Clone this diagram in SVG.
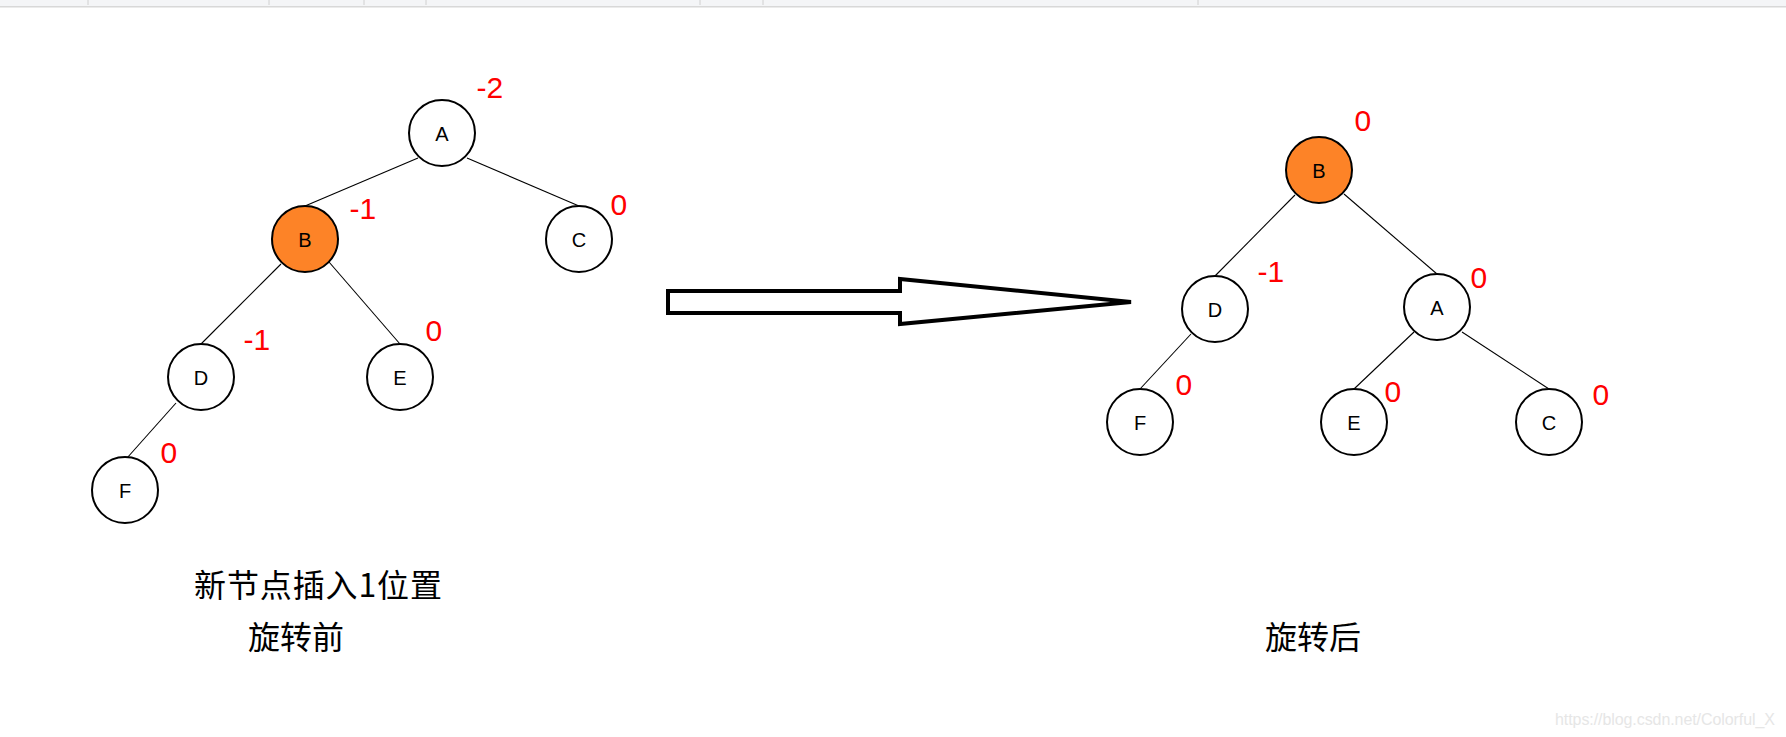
<svg xmlns="http://www.w3.org/2000/svg" width="1786" height="737" viewBox="0 0 1786 737">
<style>
.node circle{fill:#fff;stroke:#000;stroke-width:2}
.node.hl circle{fill:#fd8327}
.node text{font-family:"Liberation Sans",Arial,sans-serif;font-size:20px;text-anchor:middle;fill:#000}
.bf{font-family:"Liberation Sans",Arial,sans-serif;font-size:30px;fill:#ff0000}
.edges line{stroke:#000;stroke-width:1.1}
.cap{font-family:"Noto Sans CJK SC",sans-serif;font-size:32px;fill:#000}
</style>
<rect x="0" y="0" width="1786" height="737" fill="#fff"/>
<g id="topbar">
<rect x="0" y="0" width="1786" height="6" fill="#f4f5f7"/>
<rect x="0" y="6" width="1786" height="1.5" fill="#d8d8d8"/>
<g stroke="#d0d0d0" stroke-width="1">
<line x1="88" y1="0" x2="88" y2="5"/>
<line x1="269" y1="0" x2="269" y2="5"/>
<line x1="364" y1="0" x2="364" y2="5"/>
<line x1="426" y1="0" x2="426" y2="5"/>
<line x1="700" y1="0" x2="700" y2="5"/>
<line x1="763" y1="0" x2="763" y2="5"/>
<line x1="1198" y1="0" x2="1198" y2="5"/>
</g>
</g>
<g id="connectors" class="edges">
<line x1="418" y1="158" x2="305" y2="206"/>
<line x1="467" y1="158" x2="579" y2="206"/>
<line x1="281" y1="264" x2="201" y2="344"/>
<line x1="329" y1="262" x2="400" y2="344"/>
<line x1="176" y1="403" x2="127" y2="458"/>
<line x1="1295" y1="195" x2="1215" y2="276"/>
<line x1="1344" y1="194" x2="1437" y2="274"/>
<line x1="1191" y1="334" x2="1140" y2="389"/>
<line x1="1414" y1="332" x2="1354" y2="389"/>
<line x1="1462" y1="332" x2="1549" y2="389"/>
</g>
<g id="L-A" class="node"><circle cx="442" cy="133" r="33"/><text x="442" y="140.5">A</text></g>
<g id="L-B" class="node hl"><circle cx="305" cy="239" r="33"/><text x="305" y="246.5">B</text></g>
<g id="L-C" class="node"><circle cx="579" cy="239" r="33"/><text x="579" y="246.5">C</text></g>
<g id="L-D" class="node"><circle cx="201" cy="377" r="33"/><text x="201" y="384.5">D</text></g>
<g id="L-E" class="node"><circle cx="400" cy="377" r="33"/><text x="400" y="384.5">E</text></g>
<g id="L-F" class="node"><circle cx="125" cy="490" r="33"/><text x="125" y="497.5">F</text></g>
<g id="R-B" class="node hl"><circle cx="1319" cy="170" r="33"/><text x="1319" y="177.5">B</text></g>
<g id="R-D" class="node"><circle cx="1215" cy="309" r="33"/><text x="1215" y="316.5">D</text></g>
<g id="R-A" class="node"><circle cx="1437" cy="307" r="33"/><text x="1437" y="314.5">A</text></g>
<g id="R-F" class="node"><circle cx="1140" cy="422" r="33"/><text x="1140" y="429.5">F</text></g>
<g id="R-E" class="node"><circle cx="1354" cy="422" r="33"/><text x="1354" y="429.5">E</text></g>
<g id="R-C" class="node"><circle cx="1549" cy="422" r="33"/><text x="1549" y="429.5">C</text></g>
<g id="balance">
<text class="bf" x="476.5" y="98">-2</text>
<text class="bf" x="349.5" y="219">-1</text>
<text class="bf" x="610.5" y="215">0</text>
<text class="bf" x="243.5" y="350">-1</text>
<text class="bf" x="425.5" y="341">0</text>
<text class="bf" x="160.5" y="463">0</text>
<text class="bf" x="1354.5" y="131">0</text>
<text class="bf" x="1257.5" y="282">-1</text>
<text class="bf" x="1470.5" y="288">0</text>
<text class="bf" x="1175.5" y="395">0</text>
<text class="bf" x="1384.5" y="402">0</text>
<text class="bf" x="1592.5" y="405">0</text>
</g>
<g id="arrow">
<polygon points="668,291 900,291 900,279 1131,302 900,324 900,313 668,313" fill="#fff" stroke="#000" stroke-width="4" stroke-linejoin="miter"/>
</g>
<g id="captions">
<text class="cap" x="194" y="597" textLength="248">新节点插入1位置</text>
<text class="cap" x="248" y="649">旋转前</text>
<text class="cap" x="1265" y="649">旋转后</text>
</g>
<text x="1555" y="725" font-family="'Liberation Sans',Arial,sans-serif" font-size="16" fill="#e6e6e6" textLength="220">https://blog.csdn.net/Colorful_X</text>
</svg>
